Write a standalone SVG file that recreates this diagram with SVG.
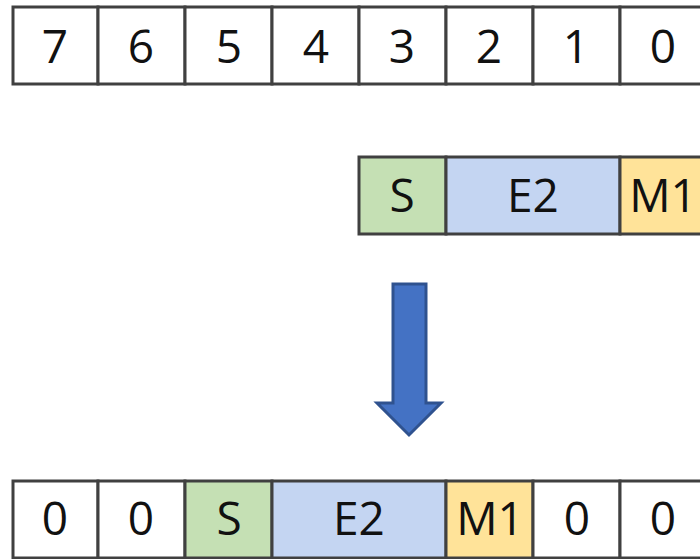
<svg xmlns="http://www.w3.org/2000/svg" width="700" height="559" viewBox="0 0 700 559">
<style>
.c{stroke:#404040;stroke-width:3}
.w{fill:#ffffff}
.g{fill:#C5E0B4}
.b{fill:#C4D5F2}
.y{fill:#FFE399}
text{font-family:"Open Sans","Noto Sans",sans-serif;font-size:46px;fill:#111;text-anchor:middle}
</style>
<rect width="700" height="559" fill="#fff"/>
<g id="top-row">
<rect class="c w" x="13" y="7" width="85" height="77"/>
<rect class="c w" x="98" y="7" width="87" height="77"/>
<rect class="c w" x="185" y="7" width="87" height="77"/>
<rect class="c w" x="272" y="7" width="87" height="77"/>
<rect class="c w" x="359" y="7" width="87" height="77"/>
<rect class="c w" x="446" y="7" width="87" height="77"/>
<rect class="c w" x="533" y="7" width="87" height="77"/>
<rect class="c w" x="620" y="7" width="87" height="77"/>
<text x="55" y="63">7</text>
<text x="141" y="63">6</text>
<text x="229" y="63">5</text>
<text x="316" y="63">4</text>
<text x="402" y="63">3</text>
<text x="489" y="63">2</text>
<text x="576" y="63">1</text>
<text x="663" y="63">0</text>
</g>
<g id="middle-row">
<rect class="c g" x="359" y="157" width="87" height="77"/>
<rect class="c b" x="446" y="157" width="174" height="77"/>
<rect class="c y" x="620" y="157" width="87" height="77"/>
<text x="402" y="212">S</text>
<text x="533" y="212">E2</text>
<text x="663" y="212">M1</text>
</g>
<g id="connectors">
<polygon points="393,284 426,284 426,403 441,403 409,435 377,403 393,403" fill="#4472C4" stroke="#2F528F" stroke-width="3" stroke-linejoin="miter"/>
</g>
<g id="bottom-row">
<rect class="c w" x="13" y="481" width="85" height="77"/>
<rect class="c w" x="98" y="481" width="87" height="77"/>
<rect class="c g" x="185" y="481" width="87" height="77"/>
<rect class="c b" x="272" y="481" width="174" height="77"/>
<rect class="c y" x="446" y="481" width="87" height="77"/>
<rect class="c w" x="533" y="481" width="87" height="77"/>
<rect class="c w" x="620" y="481" width="87" height="77"/>
<text x="55" y="535">0</text>
<text x="141" y="535">0</text>
<text x="229" y="535">S</text>
<text x="359" y="535">E2</text>
<text x="490" y="535">M1</text>
<text x="577" y="535">0</text>
<text x="663" y="535">0</text>
</g>
</svg>
